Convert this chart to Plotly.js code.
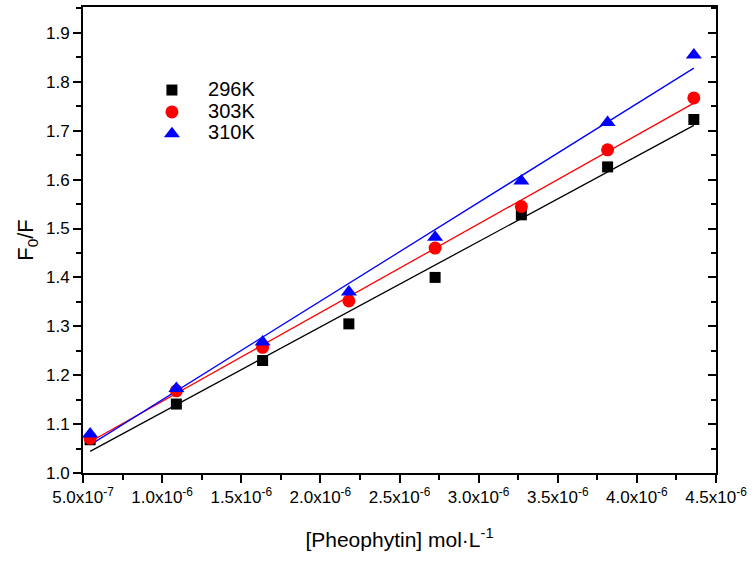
<!DOCTYPE html>
<html>
<head>
<meta charset="utf-8">
<script src="https://cdn.plot.ly/plotly-3.0.1.min.js"></script>
<style>html,body{margin:0;padding:0;background:#fff;}#chart{width:755px;height:561px;}</style>
</head>
<body>
<div id="chart"></div>
<script>
// Data
var concentration = [5.45e-7, 1.09e-6, 1.635e-6, 2.18e-6, 2.725e-6, 3.27e-6, 3.815e-6, 4.36e-6];
var f296 = [1.068, 1.141, 1.230, 1.305, 1.400, 1.528, 1.626, 1.723];
var f303 = [1.071, 1.168, 1.257, 1.352, 1.460, 1.545, 1.661, 1.767];
var f310 = [1.080, 1.173, 1.268, 1.370, 1.482, 1.597, 1.717, 1.855];
var seriesNames = ['296K', '303K', '310K'];
var xTickVals = [5e-7, 1e-6, 1.5e-6, 2e-6, 2.5e-6, 3e-6, 3.5e-6, 4e-6, 4.5e-6];
var xTickText = ['5.0x10<sup>-7</sup>', '1.0x10<sup>-6</sup>', '1.5x10<sup>-6</sup>', '2.0x10<sup>-6</sup>',
  '2.5x10<sup>-6</sup>', '3.0x10<sup>-6</sup>', '3.5x10<sup>-6</sup>', '4.0x10<sup>-6</sup>', '4.5x10<sup>-6</sup>'];

function linfit(xs, ys) {
  var n = xs.length, sx = 0, sy = 0, sxx = 0, sxy = 0;
  for (var i = 0; i < n; i++) { sx += xs[i]; sy += ys[i]; sxx += xs[i]*xs[i]; sxy += xs[i]*ys[i]; }
  var b = (n*sxy - sx*sy) / (n*sxx - sx*sx);
  var a = (sy - b*sx) / n;
  var xe = [xs[0], xs[n-1]];
  return {x: xe, y: xe.map(function(v){ return a + b*v; })};
}

var colors = ['#000000', '#ff0000', '#0000ff'];
var symbols = ['square', 'circle', 'triangle-up'];
var sizes = [11, 13, 14];
var allY = [f296, f303, f310];

var traces = [];
for (var k = 0; k < 3; k++) {
  var fit = linfit(concentration, allY[k]);
  traces.push({x: fit.x, y: fit.y, mode: 'lines', line: {color: colors[k], width: 1.3},
    showlegend: false, hoverinfo: 'skip', type: 'scatter'});
}
for (var k = 0; k < 3; k++) {
  traces.push({x: concentration, y: allY[k], mode: 'markers', type: 'scatter',
    name: '<span style="font-size:20px">\u00a0\u00a0' + seriesNames[k] + '</span>',
    marker: {color: colors[k], symbol: symbols[k], size: sizes[k]}});
}
traces.push({x: [], y: [], yaxis: 'y2', showlegend: false, type: 'scatter'});

var yRange = [1.0, 1.953];
var xRange = [5e-7, 4.5e-6];

var layout = {
  width: 755, height: 561,
  margin: {l: 83, r: 39, t: 7, b: 88},
  paper_bgcolor: '#fff', plot_bgcolor: '#fff',
  font: {family: 'Liberation Sans, Arial, sans-serif', color: '#000'},
  showlegend: true,
  legend: {x: 0.101, y: 0.856, xanchor: 'left', yanchor: 'top', bgcolor: 'rgba(0,0,0,0)',
    font: {size: 14.5, family: 'Liberation Sans, Arial, sans-serif'}, itemwidth: 40, tracegroupgap: 0},
  xaxis: {
    range: xRange, tickvals: xTickVals, ticktext: xTickText,
    showgrid: false, zeroline: false, showline: true, linecolor: '#000', linewidth: 2,
    mirror: true, ticks: 'outside', ticklen: 8, tickwidth: 2, tickcolor: '#000',
    minor: {dtick: 2.5e-7, tick0: 5e-7, ticks: 'outside', ticklen: 5, tickwidth: 2, tickcolor: '#000', showgrid: false},
    tickfont: {size: 17},
    title: {text: '[Pheophytin] mol·L<sup>-1</sup>', font: {size: 21}, standoff: 26}
  },
  yaxis: {
    range: yRange, dtick: 0.1, tick0: 1.0, tickformat: '.1f',
    showgrid: false, zeroline: false, showline: true, linecolor: '#000', linewidth: 2,
    ticks: 'outside', ticklen: 8, tickwidth: 2, tickcolor: '#000',
    minor: {dtick: 0.05, tick0: 1.0, ticks: 'outside', ticklen: 5, tickwidth: 2, tickcolor: '#000', showgrid: false},
    tickfont: {size: 17},
    title: {text: 'F<sub>0</sub>/F', font: {size: 22}, standoff: 6}
  },
  yaxis2: {
    overlaying: 'y', side: 'right', range: yRange, dtick: 0.1, tick0: 1.0,
    showgrid: false, zeroline: false, showline: true, linecolor: '#000', linewidth: 2,
    ticks: 'inside', ticklen: 8, tickwidth: 2, tickcolor: '#000', showticklabels: false,
    minor: {dtick: 0.05, tick0: 1.0, ticks: 'inside', ticklen: 5, tickwidth: 2, tickcolor: '#000', showgrid: false}
  }
};

Plotly.newPlot('chart', traces, layout, {displayModeBar: false, staticPlot: true});
</script>
</body>
</html>
